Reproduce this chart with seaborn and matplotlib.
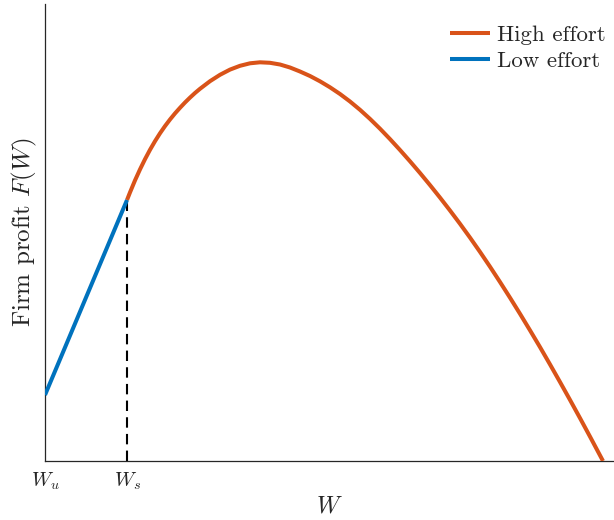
import matplotlib
matplotlib.use("Agg")
import matplotlib.pyplot as plt
import seaborn as sns
import pandas as pd

# ---- data (arbitrary units) ----
low_W = [0, 82]
low_F = [66, 261]

high_W = [82, 85, 90, 95, 100, 105, 110, 115, 120, 125, 130, 135, 140, 145,
          150, 155, 165, 175, 185, 195, 205, 215,
          225, 235, 245, 255, 265, 275, 285, 295, 305, 315, 325, 335, 345,
          355, 365, 375, 385, 395, 405, 415, 425, 435, 445, 455, 465, 475,
          485, 495, 505, 515, 525, 535, 545, 558]
high_F = [261, 268.6, 280.6, 291.6, 301.8, 311.2, 319.8, 327.7, 334.9, 341.5,
          347.6, 353.2, 358.5, 363.4, 368.0, 372.2, 379.8, 386.2, 391.4,
          395.2, 397.7, 398.7,
          398.2, 396.5, 393.5, 389.5, 385.0, 379.7, 373.7, 367.0, 359.5,
          351.2, 342.1, 332.3, 321.9, 311.0, 299.7, 288.0, 275.9, 263.4,
          250.5, 237.2, 223.4, 209.1, 194.3, 179.0, 163.3, 147.2, 130.7,
          113.9, 96.6, 79.0, 61.1, 42.9, 24.4, 0]

W_s = 82
tick_pos = [0, 82]
tick_labels = [r"$W_u$", r"$W_s$"]

sns.set_style("ticks")
plt.rcParams["font.family"] = ["cmr10", "DejaVu Serif"]
plt.rcParams["mathtext.fontset"] = "cm"
plt.rcParams["axes.formatter.use_mathtext"] = True
plt.rcParams["axes.unicode_minus"] = False

fig = plt.figure(figsize=(6.14, 5.2), dpi=100)
ax = fig.add_axes([45 / 614, 59 / 520, 1 - 45 / 614, (461 - 4) / 520])

orange = "#D95319"
blue = "#0072BD"

df_high = pd.DataFrame({"W": high_W, "F": high_F})
df_low = pd.DataFrame({"W": low_W, "F": low_F})

ax.plot([W_s, W_s], [0, low_F[1]], color="black", lw=1.5, dashes=(5, 3), zorder=1)
sns.lineplot(data=df_high, x="W", y="F", ax=ax, color=orange, lw=2.9,
             sort=False, label="High effort", zorder=3,
             solid_joinstyle="round", solid_capstyle="butt")
sns.lineplot(data=df_low, x="W", y="F", ax=ax, color=blue, lw=2.9,
             sort=False, label="Low effort", zorder=3,
             solid_capstyle="butt")

ax.set_xlim(0, 569)
ax.set_ylim(0, 457)
ax.set_xticks(tick_pos)
ax.set_xticklabels(tick_labels, fontsize=14.5)
ax.set_yticks([])
ax.tick_params(axis="x", length=0, pad=7)
ax.set_xlabel(r"$W$", fontsize=17, labelpad=2)
ax.set_ylabel(r"Firm profit $F(W)$", fontsize=18, labelpad=4)

for s in ["top", "right"]:
    ax.spines[s].set_visible(False)
for s in ["left", "bottom"]:
    ax.spines[s].set_color("#262626")
    ax.spines[s].set_linewidth(0.9)

leg = ax.legend(loc="upper right", frameon=False, fontsize=16.5,
                handlelength=1.75, handletextpad=0.3, labelspacing=0.25,
                borderaxespad=0.0, bbox_to_anchor=(1.0 + 1 / 569, 1 - 12 / 457))

fig.savefig("out.png", dpi=100)
